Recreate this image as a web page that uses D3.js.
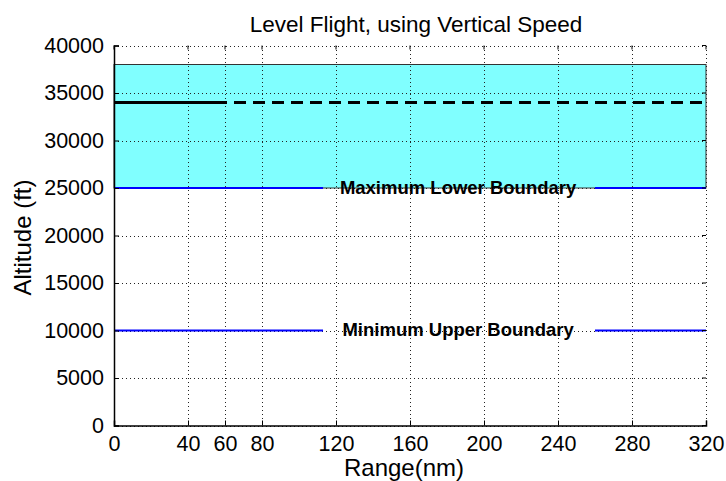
<!DOCTYPE html>
<html>
<head>
<meta charset="utf-8">
<script src="https://cdn.jsdelivr.net/npm/d3@7"></script>
<style>
  html, body { margin: 0; padding: 0; background: #fff; }
  svg { display: block; }
  text { font-family: Arial, "Liberation Sans", Helvetica, sans-serif; }
</style>
</head>
<body>
<svg id="chart" width="726" height="481"></svg>
<script>
// ---- data ----
const title = "Level Flight, using Vertical Speed";
const xLabel = "Range(nm)";
const yLabel = "Altitude (ft)";
const xTicks = [0, 40, 60, 80, 120, 160, 200, 240, 280, 320];
const yTicks = [0, 5000, 10000, 15000, 20000, 25000, 30000, 35000, 40000];
const xDomain = [0, 320];
const yDomain = [0, 40000];
const bandRange = [0, 320];
const bandAltitudes = [25000, 38000];
const flightAltitude = 34000;
const flownRange = [0, 60];
const plannedRange = [60, 320];
const boundaryNames = ["Maximum Lower Boundary", "Minimum Upper Boundary"];
const boundaryAltitudes = [25000, 10000];
const boundarySegments = [[0, 113], [260, 320]];
const labelRange = 186; // nm, centre of label

// ---- layout ----
const svg = d3.select("#chart");
const L = 114, R = 706, T = 45.5, B = 425.5;
const x = d3.scaleLinear().domain(xDomain).range([L, R]);
const y = d3.scaleLinear().domain(yDomain).range([B, T]);

// band fill
svg.append("rect")
  .attr("x", x(bandRange[0])).attr("width", x(bandRange[1]) - x(bandRange[0]))
  .attr("y", y(bandAltitudes[1])).attr("height", y(bandAltitudes[0]) - y(bandAltitudes[1]))
  .attr("fill", "#80ffff").attr("stroke", "#333").attr("stroke-width", 1);

// grid
const grid = svg.append("g").attr("stroke", "#222").attr("stroke-width", 1)
  .attr("stroke-dasharray", "1,3").attr("shape-rendering", "crispEdges");
xTicks.forEach(t => grid.append("line")
  .attr("x1", Math.round(x(t)) + 0.5).attr("x2", Math.round(x(t)) + 0.5)
  .attr("y1", T).attr("y2", B));
yTicks.forEach(t => grid.append("line")
  .attr("y1", Math.round(y(t)) + 0.5).attr("y2", Math.round(y(t)) + 0.5)
  .attr("x1", L).attr("x2", R));

// boundary lines
boundaryAltitudes.forEach(a => {
  boundarySegments.forEach(s => {
    svg.append("line")
      .attr("x1", x(s[0])).attr("x2", x(s[1]))
      .attr("y1", y(a)).attr("y2", y(a))
      .attr("stroke", "#0000ff").attr("stroke-width", 2);
  });
});

// flight line
const line = d3.line().x(d => x(d[0])).y(d => y(d[1]));
svg.append("path")
  .attr("d", line(flownRange.map(r => [r, flightAltitude])))
  .attr("fill", "none").attr("stroke", "#000").attr("stroke-width", 3);
svg.append("path")
  .attr("d", line(plannedRange.map(r => [r, flightAltitude])))
  .attr("fill", "none").attr("stroke", "#000").attr("stroke-width", 3)
  .attr("stroke-dasharray", "12,7").attr("stroke-dashoffset", -9);

// boundary labels
boundaryNames.forEach((n, i) => {
  svg.append("text")
    .attr("x", x(labelRange)).attr("y", y(boundaryAltitudes[i]) + 1)
    .attr("text-anchor", "middle").attr("dominant-baseline", "middle")
    .attr("font-size", 18.5).attr("font-weight", "bold").attr("fill", "#000")
    .text(n);
});

// axes
const xAxis = d3.axisBottom(x).tickValues(xTicks).tickSize(-5).tickPadding(10).tickFormat(d3.format("d"));
const yAxis = d3.axisLeft(y).tickValues(yTicks).tickSize(-5).tickPadding(10).tickFormat(d3.format("d"));
const gx = svg.append("g").attr("transform", `translate(0,${B})`).call(xAxis);
const gy = svg.append("g").attr("transform", `translate(${L},0)`).call(yAxis);
[gx, gy].forEach(g => {
  g.select(".domain").attr("stroke", "#000").attr("stroke-width", 1.5);
  g.selectAll(".tick line").attr("stroke", "#000");
  g.selectAll(".tick text").attr("font-size", 21.5).attr("fill", "#000")
    .attr("font-family", "Arial, 'Liberation Sans', sans-serif");
});
gx.selectAll(".tick text").attr("dy", "0.71em");
// top and right ticks
const topG = svg.append("g").attr("stroke", "#000");
xTicks.forEach(t => topG.append("line")
  .attr("x1", x(t)).attr("x2", x(t)).attr("y1", T).attr("y2", T + 4));
yTicks.forEach(t => topG.append("line")
  .attr("x1", R).attr("x2", R - 4).attr("y1", y(t)).attr("y2", y(t)));

// title and labels
svg.append("text").attr("x", 416).attr("y", 31.5)
  .attr("text-anchor", "middle").attr("font-size", 22.5).text(title);
svg.append("text").attr("x", 404).attr("y", 476)
  .attr("text-anchor", "middle").attr("font-size", 24).text(xLabel);
svg.append("text").attr("transform", `translate(31,${(T + B) / 2 + 2}) rotate(-90)`)
  .attr("text-anchor", "middle").attr("font-size", 24).text(yLabel);
</script>
</body>
</html>
